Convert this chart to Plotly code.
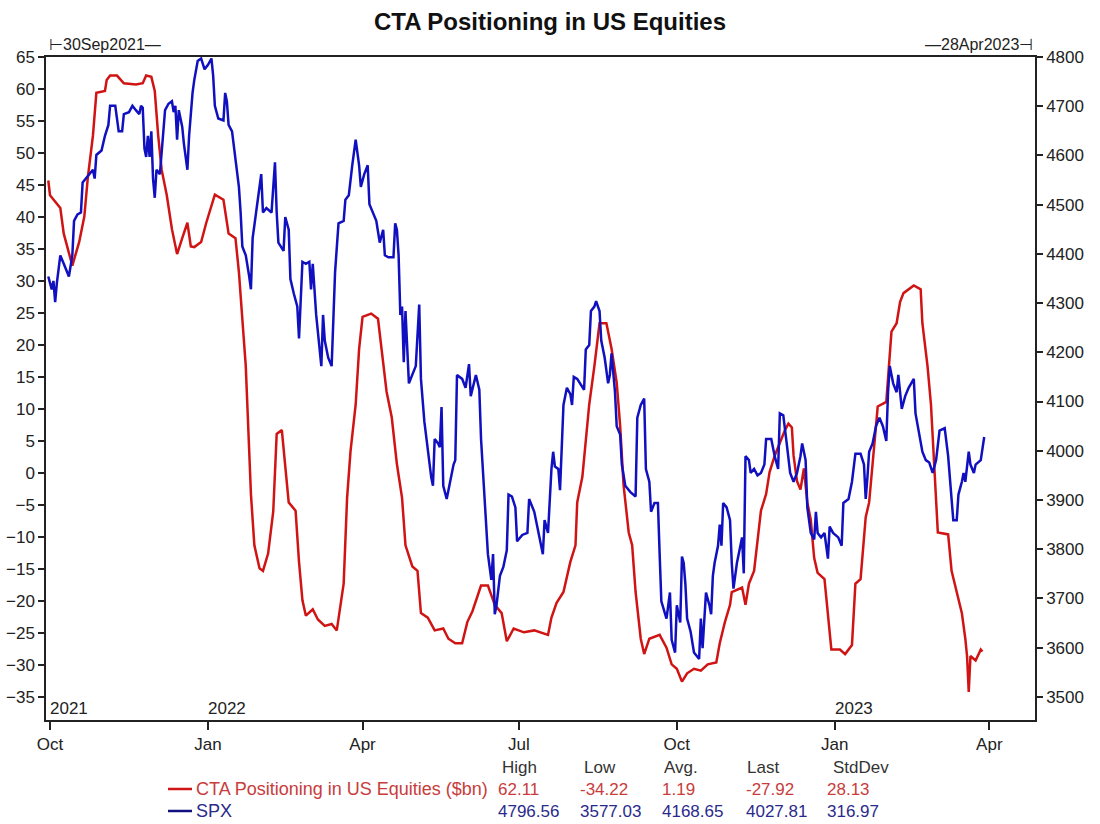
import plotly.graph_objects as go

# CTA positioning in US equities ($bn)
cta_dates = [
    "2021-09-30", "2021-10-01", "2021-10-07", "2021-10-09", "2021-10-13", "2021-10-14", "2021-10-18",
    "2021-10-21", "2021-10-23", "2021-10-26", "2021-10-28", "2021-11-02", "2021-11-03", "2021-11-05",
    "2021-11-09", "2021-11-13", "2021-11-20", "2021-11-24", "2021-11-26", "2021-11-29", "2021-12-01",
    "2021-12-03", "2021-12-05", "2021-12-08", "2021-12-11", "2021-12-14", "2021-12-17", "2021-12-20",
    "2021-12-22", "2021-12-24", "2021-12-28", "2021-12-31", "2022-01-05", "2022-01-10", "2022-01-13",
    "2022-01-17", "2022-01-19", "2022-01-21", "2022-01-23", "2022-01-25", "2022-01-26", "2022-01-28",
    "2022-01-31", "2022-02-02", "2022-02-05", "2022-02-08", "2022-02-10", "2022-02-13", "2022-02-15",
    "2022-02-17", "2022-02-21", "2022-02-23", "2022-02-25", "2022-02-27", "2022-03-03", "2022-03-06",
    "2022-03-10", "2022-03-14", "2022-03-17", "2022-03-19", "2022-03-21", "2022-03-23", "2022-03-25",
    "2022-03-28", "2022-03-30", "2022-04-01", "2022-04-06", "2022-04-10", "2022-04-12", "2022-04-15",
    "2022-04-18", "2022-04-21", "2022-04-24", "2022-04-26", "2022-04-30", "2022-05-03", "2022-05-05",
    "2022-05-09", "2022-05-13", "2022-05-18", "2022-05-21", "2022-05-25", "2022-05-29", "2022-06-01",
    "2022-06-04", "2022-06-09", "2022-06-13", "2022-06-17", "2022-06-21", "2022-06-24", "2022-06-28",
    "2022-07-04", "2022-07-10", "2022-07-18", "2022-07-20", "2022-07-23", "2022-07-27", "2022-07-31",
    "2022-08-03", "2022-08-04", "2022-08-07", "2022-08-09", "2022-08-11", "2022-08-14", "2022-08-17",
    "2022-08-21", "2022-08-24", "2022-08-27", "2022-08-29", "2022-08-31", "2022-09-03", "2022-09-05",
    "2022-09-07", "2022-09-10", "2022-09-12", "2022-09-15", "2022-09-21", "2022-09-25", "2022-09-28",
    "2022-10-01", "2022-10-04", "2022-10-07", "2022-10-11", "2022-10-15", "2022-10-19", "2022-10-24",
    "2022-10-26", "2022-10-29", "2022-11-01", "2022-11-02", "2022-11-08", "2022-11-10", "2022-11-12",
    "2022-11-15", "2022-11-17", "2022-11-19", "2022-11-22", "2022-11-24", "2022-11-27", "2022-11-30",
    "2022-12-03", "2022-12-05", "2022-12-07", "2022-12-08", "2022-12-10", "2022-12-12", "2022-12-14",
    "2022-12-16", "2022-12-18", "2022-12-20", "2022-12-22", "2022-12-26", "2022-12-28", "2022-12-30",
    "2023-01-04", "2023-01-07", "2023-01-11", "2023-01-13", "2023-01-16", "2023-01-19", "2023-01-21",
    "2023-01-24", "2023-01-26", "2023-01-31", "2023-02-03", "2023-02-06", "2023-02-08", "2023-02-10",
    "2023-02-16", "2023-02-20", "2023-02-21", "2023-02-24", "2023-02-26", "2023-02-28", "2023-03-02",
    "2023-03-08", "2023-03-10", "2023-03-13", "2023-03-16", "2023-03-18", "2023-03-19", "2023-03-20",
    "2023-03-21", "2023-03-24", "2023-03-27", "2023-03-28",
]
cta_values = [
    45.7, 43.4, 41.4, 37.4, 33.4, 32.4, 36.1,
    40.1, 46.1, 52.7, 59.4, 59.7, 61.4, 62.1,
    62.1, 60.9, 60.7, 60.9, 62.1, 61.9, 59.7,
    52.7, 47.4, 43.4, 38.1, 34.2, 36.7, 39.1,
    35.4, 35.3, 36.1, 39.1, 43.5, 42.7, 37.4,
    36.7, 31.4, 24.7, 16.7, 3.4, -3.3, -11.3,
    -14.9, -15.3, -12.6, -6.0, 6.1, 6.7, 1.0,
    -4.6, -5.9, -13.9, -19.9, -22.3, -21.3, -22.9,
    -23.9, -23.6, -24.6, -21.3, -17.3, -3.9, 3.4,
    10.7, 19.4, 24.4, 24.9, 24.1, 19.4, 12.7,
    8.7, 1.4, -3.9, -11.3, -14.6, -15.3, -21.9,
    -22.6, -24.6, -24.3, -25.9, -26.6, -26.6, -23.3,
    -21.6, -17.6, -17.6, -20.6, -21.9, -26.3, -24.3,
    -24.9, -24.6, -25.3, -22.6, -20.3, -18.6, -13.9,
    -11.3, -4.6, -0.6, 4.7, 10.7, 16.7, 23.4,
    23.4, 19.4, 14.1, 7.4, -1.9, -9.3, -11.3,
    -18.6, -25.9, -28.3, -25.9, -25.3, -27.3, -29.9,
    -30.6, -32.6, -31.3, -30.6, -30.9, -29.9, -29.6,
    -26.6, -23.3, -20.6, -18.6, -17.9, -20.6, -17.3,
    -15.3, -10.6, -5.9, -3.3, 0.1, 2.7, 4.7,
    6.7, 7.7, 7.1, 2.7, -1.3, -2.6, 0.7,
    -4.6, -7.3, -13.3, -15.6, -16.6, -22.6, -27.6,
    -27.6, -28.3, -26.9, -17.3, -16.6, -6.9, -4.6,
    4.1, 10.4, 11.1, 22.1, 23.4, 26.7, 28.1,
    29.3, 28.7, 23.4, 16.7, 10.7, 0.7, -9.3,
    -9.6, -15.3, -18.6, -21.9, -25.9, -28.6, -34.2,
    -28.6, -29.3, -27.6, -27.9,
]

# S&P 500 index level
spx_dates = [
    "2021-09-30", "2021-10-01", "2021-10-02", "2021-10-03", "2021-10-04", "2021-10-05", "2021-10-07",
    "2021-10-09", "2021-10-12", "2021-10-14", "2021-10-15", "2021-10-17", "2021-10-19", "2021-10-20",
    "2021-10-22", "2021-10-24", "2021-10-26", "2021-10-27", "2021-10-28", "2021-10-31", "2021-11-02",
    "2021-11-04", "2021-11-05", "2021-11-08", "2021-11-10", "2021-11-12", "2021-11-13", "2021-11-16",
    "2021-11-18", "2021-11-20", "2021-11-22", "2021-11-23", "2021-11-24", "2021-11-25", "2021-11-26",
    "2021-11-27", "2021-11-28", "2021-11-29", "2021-11-30", "2021-12-01", "2021-12-02", "2021-12-04",
    "2021-12-06", "2021-12-07", "2021-12-09", "2021-12-11", "2021-12-12", "2021-12-13", "2021-12-14",
    "2021-12-15", "2021-12-17", "2021-12-18", "2021-12-20", "2021-12-21", "2021-12-23", "2021-12-24",
    "2021-12-26", "2021-12-28", "2021-12-30", "2022-01-01", "2022-01-03", "2022-01-04", "2022-01-05",
    "2022-01-07", "2022-01-10", "2022-01-11", "2022-01-12", "2022-01-13", "2022-01-15", "2022-01-17",
    "2022-01-19", "2022-01-20", "2022-01-21", "2022-01-22", "2022-01-23", "2022-01-25", "2022-01-26",
    "2022-01-27", "2022-01-29", "2022-01-31", "2022-02-01", "2022-02-02", "2022-02-04", "2022-02-07",
    "2022-02-09", "2022-02-10", "2022-02-11", "2022-02-14", "2022-02-15", "2022-02-17", "2022-02-18",
    "2022-02-20", "2022-02-22", "2022-02-23", "2022-02-24", "2022-02-25", "2022-02-27", "2022-03-01",
    "2022-03-02", "2022-03-03", "2022-03-05", "2022-03-07", "2022-03-08", "2022-03-09", "2022-03-10",
    "2022-03-12", "2022-03-14", "2022-03-15", "2022-03-16", "2022-03-18", "2022-03-21", "2022-03-22",
    "2022-03-24", "2022-03-26", "2022-03-28", "2022-03-30", "2022-03-31", "2022-04-02", "2022-04-04",
    "2022-04-05", "2022-04-07", "2022-04-09", "2022-04-11", "2022-04-13", "2022-04-14", "2022-04-16",
    "2022-04-19", "2022-04-20", "2022-04-21", "2022-04-22", "2022-04-23", "2022-04-24", "2022-04-25",
    "2022-04-26", "2022-04-28", "2022-04-30", "2022-05-02", "2022-05-04", "2022-05-05", "2022-05-07",
    "2022-05-09", "2022-05-11", "2022-05-12", "2022-05-13", "2022-05-15", "2022-05-16", "2022-05-17",
    "2022-05-18", "2022-05-20", "2022-05-22", "2022-05-24", "2022-05-25", "2022-05-26", "2022-05-29",
    "2022-05-31", "2022-06-02", "2022-06-03", "2022-06-06", "2022-06-08", "2022-06-09", "2022-06-11",
    "2022-06-13", "2022-06-15", "2022-06-16", "2022-06-17", "2022-06-18", "2022-06-20", "2022-06-22",
    "2022-06-24", "2022-06-25", "2022-06-27", "2022-06-29", "2022-06-30", "2022-07-01", "2022-07-03",
    "2022-07-06", "2022-07-07", "2022-07-10", "2022-07-13", "2022-07-15", "2022-07-16", "2022-07-18",
    "2022-07-20", "2022-07-21", "2022-07-22", "2022-07-24", "2022-07-25", "2022-07-26", "2022-07-27",
    "2022-07-29", "2022-07-31", "2022-08-01", "2022-08-02", "2022-08-04", "2022-08-08", "2022-08-09",
    "2022-08-11", "2022-08-12", "2022-08-14", "2022-08-15", "2022-08-17", "2022-08-18", "2022-08-20",
    "2022-08-22", "2022-08-23", "2022-08-24", "2022-08-26", "2022-08-27", "2022-08-29", "2022-08-30",
    "2022-09-01", "2022-09-04", "2022-09-07", "2022-09-08", "2022-09-10", "2022-09-12", "2022-09-13",
    "2022-09-15", "2022-09-16", "2022-09-18", "2022-09-20", "2022-09-21", "2022-09-22", "2022-09-25",
    "2022-09-27", "2022-09-28", "2022-09-30", "2022-10-01", "2022-10-03", "2022-10-04", "2022-10-05",
    "2022-10-06", "2022-10-07", "2022-10-09", "2022-10-11", "2022-10-14", "2022-10-15", "2022-10-16",
    "2022-10-18", "2022-10-20", "2022-10-21", "2022-10-22", "2022-10-23", "2022-10-25", "2022-10-26",
    "2022-10-27", "2022-10-28", "2022-10-30", "2022-11-01", "2022-11-02", "2022-11-03", "2022-11-05",
    "2022-11-07", "2022-11-08", "2022-11-09", "2022-11-10", "2022-11-12", "2022-11-13", "2022-11-15",
    "2022-11-17", "2022-11-19", "2022-11-21", "2022-11-22", "2022-11-25", "2022-11-27", "2022-11-29",
    "2022-11-30", "2022-12-02", "2022-12-04", "2022-12-06", "2022-12-08", "2022-12-10", "2022-12-12",
    "2022-12-13", "2022-12-15", "2022-12-16", "2022-12-18", "2022-12-20", "2022-12-21", "2022-12-22",
    "2022-12-24", "2022-12-26", "2022-12-28", "2022-12-29", "2022-12-31", "2023-01-03", "2023-01-05",
    "2023-01-06", "2023-01-09", "2023-01-11", "2023-01-13", "2023-01-16", "2023-01-18", "2023-01-19",
    "2023-01-20", "2023-01-21", "2023-01-23", "2023-01-25", "2023-01-27", "2023-01-29", "2023-01-31",
    "2023-02-01", "2023-02-02", "2023-02-04", "2023-02-06", "2023-02-07", "2023-02-09", "2023-02-11",
    "2023-02-13", "2023-02-16", "2023-02-17", "2023-02-20", "2023-02-21", "2023-02-23", "2023-02-25",
    "2023-02-27", "2023-03-01", "2023-03-03", "2023-03-06", "2023-03-08", "2023-03-09", "2023-03-11",
    "2023-03-13", "2023-03-14", "2023-03-16", "2023-03-17", "2023-03-18", "2023-03-20", "2023-03-21",
    "2023-03-23", "2023-03-24", "2023-03-27", "2023-03-29",
]
spx_values = [
    4354, 4341, 4328, 4345, 4302, 4341, 4397,
    4380, 4354, 4397, 4467, 4480, 4484, 4545,
    4553, 4562, 4571, 4553, 4601, 4610, 4640,
    4662, 4701, 4701, 4649, 4649, 4684, 4688,
    4701, 4692, 4684, 4701, 4697, 4614, 4597,
    4640, 4597, 4649, 4553, 4514, 4571, 4562,
    4640, 4692, 4705, 4710, 4688, 4701, 4632,
    4692, 4658, 4623, 4571, 4640, 4727, 4753,
    4792, 4797, 4775, 4784, 4797, 4762, 4701,
    4675, 4671, 4727, 4710, 4662, 4649, 4597,
    4536, 4484, 4415, 4406, 4397, 4354, 4328,
    4432, 4484, 4536, 4562, 4484, 4493, 4484,
    4586, 4484, 4423, 4406, 4475, 4449, 4349,
    4319, 4293, 4228, 4302, 4384, 4380, 4384,
    4328, 4380, 4276, 4206, 4172, 4276, 4224,
    4189, 4172, 4267, 4363, 4462, 4467, 4510,
    4519, 4580, 4632, 4580, 4536, 4562, 4580,
    4501, 4484, 4467, 4423, 4449, 4397, 4393,
    4393, 4462, 4449, 4397, 4276, 4293, 4180,
    4284, 4137, 4154, 4172, 4297, 4146, 4059,
    3998, 3946, 3929, 4024, 4015, 4007, 4089,
    3929, 3902, 3937, 3972, 3981, 4154, 4146,
    4128, 4176, 4111, 4154, 4124, 4024, 3902,
    3790, 3738, 3790, 3668, 3686, 3746, 3764,
    3798, 3911, 3907, 3885, 3816, 3820, 3829,
    3833, 3902, 3876, 3824, 3790, 3859, 3833,
    3963, 3998, 3968, 3963, 3920, 4015, 4093,
    4128, 4115, 4093, 4150, 4146, 4124, 4206,
    4215, 4284, 4293, 4304, 4284, 4224, 4189,
    4137, 4154, 4198, 4119, 4050, 4033, 3972,
    3929, 3916, 3907, 4067, 4093, 4106, 3963,
    3937, 3876, 3894, 3894, 3790, 3694, 3659,
    3712, 3616, 3590, 3686, 3651, 3785, 3772,
    3729, 3659, 3633, 3590, 3577, 3659, 3599,
    3712, 3686, 3668, 3746, 3772, 3807, 3850,
    3807, 3894, 3885, 3859, 3772, 3720, 3772,
    3807, 3824, 3751, 3989, 3981, 3955, 3963,
    3950, 3955, 3972, 4024, 4024, 3989, 3963,
    4076, 4072, 4015, 3955, 3937, 3955, 3989,
    4015, 3981, 3885, 3833, 3820, 3876, 3833,
    3824, 3833, 3781, 3846, 3833, 3824, 3807,
    3894, 3902, 3937, 3994, 3994, 3972, 3902,
    3946, 3998, 4015, 4050, 4067, 4050, 4020,
    4119, 4172, 4137, 4119, 4154, 4085, 4111,
    4128, 4146, 4076, 4015, 3998, 3981, 3976,
    3955, 3981, 4041, 4046, 3989, 3946, 3859,
    3859, 3911, 3937, 3955, 3937, 3998, 3972,
    3955, 3972, 3981, 4028,
]

quarter_ticks = ["2021-10-01", "2022-01-01", "2022-04-01", "2022-07-01", "2022-10-01", "2023-01-01", "2023-04-01"]
quarter_labels = ["Oct", "Jan", "Apr", "Jul", "Oct", "Jan", "Apr"]
year_ticks = ["2021-10-01", "2022-01-01", "2023-01-01"]
year_labels = ["2021", "2022", "2023"]

left_ticks = list(range(-35, 66, 5))
right_ticks = list(range(3500, 4801, 100))

stat_headers = ["High", "Low", "Avg.", "Last", "StdDev"]
cta_stats = ["62.11", "-34.22", "1.19", "-27.92", "28.13"]
spx_stats = ["4796.56", "3577.03", "4168.65", "4027.81", "316.97"]
series_names = ["CTA Positioning in US Equities ($bn)", "SPX"]

RED = "#d01414"
BLUE = "#1010c0"
FONT = "Liberation Sans, Arial, sans-serif"

# plot box in pixels, used to place the text outside it
W, H = 1100, 824
L, R, T, B = 46, 1035, 57, 720


def px(x):
    return (x - L) / (R - L)


def py(y):
    return (B - y) / (B - T)


fig = go.Figure()
fig.add_trace(go.Scatter(x=cta_dates, y=cta_values, name=series_names[0], mode="lines",
                         line=dict(color=RED, width=2.5), yaxis="y"))
fig.add_trace(go.Scatter(x=spx_dates, y=spx_values, name=series_names[1], mode="lines",
                         line=dict(color=BLUE, width=2.5), yaxis="y2"))

annotations = []
# date range markers above the plot
annotations.append(dict(text="⊢30Sep2021—", x=px(47), y=py(44), xref="paper", yref="paper",
                        xanchor="left", yanchor="middle", showarrow=False,
                        font=dict(size=16, color="#222", family=FONT)))
annotations.append(dict(text="—28Apr2023⊣", x=px(1035), y=py(44), xref="paper", yref="paper",
                        xanchor="right", yanchor="middle", showarrow=False,
                        font=dict(size=16, color="#222", family=FONT)))
# year labels inside the plot
for d, lab in zip(year_ticks, year_labels):
    annotations.append(dict(text=lab, x=d, y=py(708), xref="x", yref="paper", xanchor="left",
                            yanchor="middle", showarrow=False, xshift=-2,
                            font=dict(size=17, color="#222", family=FONT)))

# stats table below the plot
head_x = [500, 582, 662, 745, 831]
col_x = [496, 578, 660, 744, 825]
for cx, h in zip(head_x, stat_headers):
    annotations.append(dict(text=h, x=px(cx), y=py(767), xref="paper", yref="paper",
                            xanchor="left", yanchor="middle", showarrow=False,
                            font=dict(size=17, color="#333", family=FONT)))
row_colors = ["#c83c3c", "#2a2a8c"]
for row_y, name, stats, col in zip([789, 811], series_names, [cta_stats, spx_stats], row_colors):
    annotations.append(dict(text=name, x=px(194), y=py(row_y), xref="paper", yref="paper",
                            xanchor="left", yanchor="middle", showarrow=False,
                            font=dict(size=18, color=col, family=FONT)))
    for cx, v in zip(col_x, stats):
        annotations.append(dict(text=v, x=px(cx), y=py(row_y), xref="paper", yref="paper",
                                xanchor="left", yanchor="middle", showarrow=False,
                                font=dict(size=17, color=col, family=FONT)))

shapes = []
for row_y, col in zip([789, 811], [RED, "#101080"]):
    shapes.append(dict(type="line", xref="paper", yref="paper", x0=px(168), x1=px(192),
                       y0=py(row_y), y1=py(row_y), line=dict(color=col, width=2.5)))

axis_font = dict(size=17, color="#222", family=FONT)
fig.update_layout(
    width=W, height=H,
    margin=dict(l=L, r=W - R, t=T, b=H - B, pad=0, autoexpand=False),
    paper_bgcolor="white", plot_bgcolor="white",
    showlegend=False,
    title=dict(text="<b>CTA Positioning in US Equities</b>", x=0.5, xanchor="center",
               y=1 - 22 / H, yanchor="middle", font=dict(size=24, color="#111", family=FONT)),
    xaxis=dict(type="date", range=["2021-09-28 16:00", "2023-04-27 14:00"], automargin=False,
               tickmode="array", tickvals=quarter_ticks, ticktext=quarter_labels,
               ticks="outside", ticklen=8, tickwidth=1.5, tickcolor="#222",
               showgrid=False, zeroline=False, showline=True, linecolor="#222", linewidth=1.5,
               mirror=True, tickfont=axis_font),
    yaxis=dict(range=[-38.6, 65], tickmode="array", tickvals=left_ticks, automargin=False,
               ticks="outside", ticklen=6, tickwidth=1.5, tickcolor="#222",
               showgrid=False, zeroline=False, showline=True, linecolor="#222", linewidth=1.5,
               tickfont=axis_font),
    yaxis2=dict(range=[3453, 4800], overlaying="y", side="right", tickmode="array", automargin=False,
                tickvals=right_ticks, ticks="outside", ticklen=6, tickwidth=1.5, tickcolor="#222",
                showgrid=False, zeroline=False, showline=True, linecolor="#222", linewidth=1.5,
                tickfont=axis_font),
    annotations=annotations,
    shapes=shapes,
)

# drop the browser's default page margin so the figure sits at the window origin
fig.write_html("out.html", config={"displayModeBar": False},
               post_script="document.body.style.margin='0px';")
